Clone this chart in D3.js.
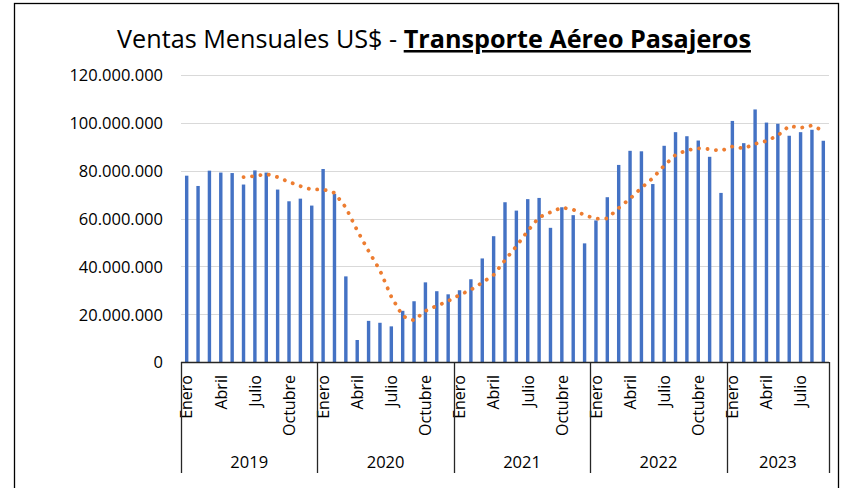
<!DOCTYPE html>
<meta charset="utf-8">
<script src="https://cdn.jsdelivr.net/npm/d3@7"></script>
<style>
body { margin: 0; background: #fff; }
text { font-family: "Open Sans", "DejaVu Sans", sans-serif; fill: #000; }
.grid line { stroke: #d9d9d9; stroke-width: 1; }
.bar { fill: #4472c4; }
.ma { fill: none; stroke: #ed7d31; stroke-width: 3.8; stroke-linecap: round; stroke-dasharray: 0.1 8.4; }
</style>
<svg width="848" height="488"></svg>
<script>

// datos (millones de US$)
var years = ["2019", "2020", "2021", "2022", "2023"];
var monthNames = ["Enero", "Febrero", "Marzo", "Abril", "Mayo", "Junio", "Julio",
                  "Agosto", "Septiembre", "Octubre", "Noviembre", "Diciembre"];
var ventas2019 = [77.9, 73.6, 80.0, 79.2, 79.0, 74.2, 80.1, 79.2, 72.1, 67.2, 68.3, 65.4];
var ventas2020 = [80.7, 70.3, 35.8, 9.2, 17.2, 16.4, 14.9, 21.4, 25.4, 33.3, 29.6, 28.3];
var ventas2021 = [30.0, 34.6, 43.3, 52.6, 66.8, 63.3, 68.1, 68.6, 56.1, 64.7, 61.4, 49.6];
var ventas2022 = [59.2, 68.9, 82.4, 88.3, 88.1, 74.4, 90.4, 96.1, 94.4, 92.6, 85.8, 70.7];
var ventas2023 = [100.8, 91.5, 105.6, 100.1, 99.6, 94.6, 96.1, 97.1, 92.5];
// media movil (6 periodos), empieza en junio 2019
var mediaMovil = [77.3, 77.7, 78.6, 77.3, 75.3, 73.5, 72.1,
                  72.2, 70.7, 64.6, 55.0, 46.4, 38.3, 27.3, 19.2, 17.4, 21.4, 23.5, 25.5,
                  28.0, 30.2, 33.2, 36.4, 42.6, 48.4, 54.8, 60.5, 62.6, 64.6, 63.7, 61.4,
                  59.9, 60.0, 64.4, 68.3, 72.8, 76.9, 82.1, 86.6, 88.6, 89.3, 89.0, 88.3,
                  90.1, 89.3, 91.2, 92.4, 94.7, 98.7, 97.9, 98.9, 96.7];
var maStart = 5;
var yTicks = [0, 20, 40, 60, 80, 100, 120];
var monthTicks = ["Enero", "Abril", "Julio", "Octubre"];

var ventasPorAnio = [ventas2019, ventas2020, ventas2021, ventas2022, ventas2023];
var data = [];
ventasPorAnio.forEach(function(arr, yi) {
    arr.forEach(function(v, mi) {
        data.push({i: data.length, year: years[yi], month: monthNames[mi], value: v});
    });
});

var svg = d3.select("svg");

// marco
svg.append("rect")
    .attr("x", 14.5).attr("y", 3.5)
    .attr("width", 824).attr("height", 500)
    .attr("fill", "none").attr("stroke", "#000").attr("stroke-width", 1.3);

var plotLeft = 181, plotRight = 829, plotTop = 75, plotBottom = 362;

var x = d3.scaleBand()
    .domain(data.map(function(d) { return d.i; }))
    .range([plotLeft, plotRight])
    .paddingInner(0.7)
    .paddingOuter(0.35);

var y = d3.scaleLinear().domain([0, 120]).range([plotBottom, plotTop]);

var fmt = d3.formatLocale({decimal: ",", thousands: ".", grouping: [3], currency: ["$", ""]}).format(",.0f");

// grilla
svg.append("g")
    .attr("class", "grid")
    .selectAll("line")
    .data(yTicks.filter(function(t) { return t > 0; }))
    .enter().append("line")
    .attr("x1", plotLeft).attr("x2", plotRight)
    .attr("y1", function(d) { return Math.round(y(d)) + 0.5; })
    .attr("y2", function(d) { return Math.round(y(d)) + 0.5; });

// eje y
var yAxis = svg.append("g")
    .attr("transform", "translate(" + (plotLeft - 18) + ",0)")
    .call(d3.axisLeft(y).tickValues(yTicks).tickSize(0).tickPadding(0)
        .tickFormat(function(d) { return fmt(d * 1e6); }));
yAxis.select(".domain").remove();
yAxis.selectAll("text")
    .style("font-size", "16.5px")
    .style("font-family", "'Open Sans', sans-serif")
    .attr("fill", "#000")
    .attr("dy", "0.36em");

// barras
svg.append("g")
    .selectAll("rect")
    .data(data)
    .enter().append("rect")
    .attr("class", "bar")
    .attr("x", function(d) { return x(d.i); })
    .attr("width", x.bandwidth())
    .attr("y", function(d) { return y(d.value); })
    .attr("height", function(d) { return y(0) - y(d.value); });

// tendencia
var line = d3.line()
    .x(function(d, k) { return x(k + maStart) + x.bandwidth() / 2; })
    .y(function(d) { return y(d); });

svg.append("path")
    .datum(mediaMovil)
    .attr("class", "ma")
    .attr("d", line);

// eje x
svg.append("line")
    .attr("x1", plotLeft).attr("x2", plotRight)
    .attr("y1", plotBottom + 0.5).attr("y2", plotBottom + 0.5)
    .attr("stroke", "#262626").attr("stroke-width", 1.3);

svg.append("g")
    .selectAll("text")
    .data(data.filter(function(d) { return monthTicks.indexOf(d.month) >= 0; }))
    .enter().append("text")
    .attr("transform", function(d) {
        return "translate(" + (x(d.i) + x.bandwidth() / 2) + "," + (plotBottom + 13) + ") rotate(-90)";
    })
    .attr("text-anchor", "end")
    .attr("dy", "0.36em")
    .style("font-size", "16px")
    .text(function(d) { return d.month; });

// separadores de anio
var yearStart = years.map(function(yr) {
    return data.filter(function(d) { return d.year == yr; });
});
var bounds = yearStart.map(function(arr) { return x(arr[0].i) - x.step() * x.paddingInner() / 2; });
bounds[0] = plotLeft;
bounds.push(plotRight);

svg.append("g")
    .selectAll("line")
    .data(bounds)
    .enter().append("line")
    .attr("x1", function(d) { return Math.round(d) + 0.5; })
    .attr("x2", function(d) { return Math.round(d) + 0.5; })
    .attr("y1", plotBottom).attr("y2", 473)
    .attr("stroke", "#262626").attr("stroke-width", 1.3);

svg.append("g")
    .selectAll("text")
    .data(years)
    .enter().append("text")
    .attr("x", function(d, k) { return (bounds[k] + bounds[k + 1]) / 2; })
    .attr("y", 468)
    .attr("text-anchor", "middle")
    .style("font-size", "16.5px")
    .text(function(d) { return d; });

// titulo
var title = svg.append("text")
    .attr("x", 434)
    .attr("y", 48)
    .attr("text-anchor", "middle")
    .style("font-size", "25.2px");
title.append("tspan").text("Ventas Mensuales US$ - ");
title.append("tspan")
    .style("font-weight", "bold")
    .style("text-decoration", "underline")
    .text("Transporte Aéreo Pasajeros");

</script>
